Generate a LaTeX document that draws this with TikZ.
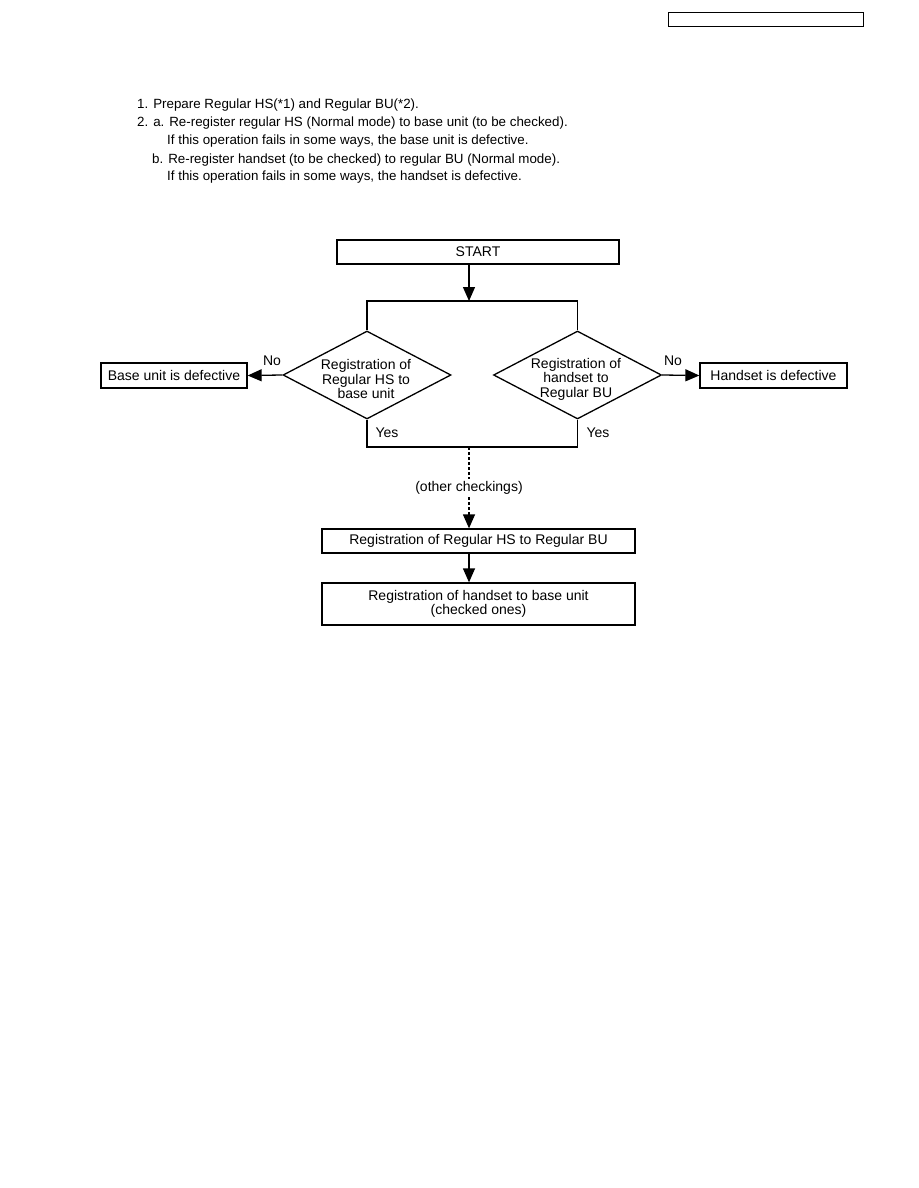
\documentclass[tikz,border=0pt]{standalone}
\usepackage{fontspec}
\setmainfont{Liberation Sans}
\usetikzlibrary{shapes.geometric,arrows.meta}

\tikzstyle{every node}=[font=\fontsize{14}{14.5}\selectfont]
\tikzstyle{block} = [rectangle,draw,line width=1.3pt,minimum height=24pt,inner sep=0,align=center]
\tikzstyle{test} = [diamond,draw,line width=1.3pt,minimum width=168pt,minimum height=88pt,aspect=1.9,inner sep=0]
\tikzstyle{flow} = [line width=1.3pt,-{Triangle[length=14pt,width=12pt]}]
\tikzstyle{wire} = [line width=1.3pt]
\tikzstyle{note} = [anchor=base west,inner sep=0,font=\fontsize{13.35}{17.6}\selectfont]

\begin{document}
\begin{tikzpicture}[x=1pt,y=-1pt]
	\useasboundingbox (0,0) rectangle (918,1188);
	\node[rectangle,draw,line width=1pt,minimum width=195pt,minimum height=14pt] (model) at (765.5,20) {};
	% instructions
	\node[note] (n1) at (137,109) {1. Prepare Regular HS(*1) and Regular BU(*2).};
	\node[note] (n2) at (137,127) {2. a. Re-register regular HS (Normal mode) to base unit (to be checked).};
	\node[note] (n3) at (167,145) {If this operation fails in some ways, the base unit is defective.};
	\node[note] (n4) at (152,163) {b. Re-register handset (to be checked) to regular BU (Normal mode).};
	\node[note] (n5) at (167,180) {If this operation fails in some ways, the handset is defective.};
	% flow chart
	\node[block,minimum width=282pt] (start) at (478,252) {START};
	\coordinate (split) at (469,301);
	\coordinate (merge) at (469,447);
	\node[test] (regHS) at (367,375) {};
	\node[align=center] (regHStext) at (366,379) {Registration of\\Regular HS to\\base unit};
	\node[test] (regBU) at (577.5,375) {};
	\node[align=center] (regBUtext) at (576,379) {Registration of\\handset to\\Regular BU};
	\node[block,minimum width=146pt,minimum height=25pt] (badBU) at (174,375.5) {Base unit is defective};
	\node[block,minimum width=147pt,minimum height=25pt] (badHS) at (773.5,375.5) {Handset is defective};
	\node[block,minimum width=313pt] (check1) at (478.5,541) {Registration of Regular HS to Regular BU};
	\node[block,minimum width=313pt,minimum height=42pt] (check2) at (478.5,604) {Registration of handset to base unit\\(checked ones)};
	\node (no1) at (272,361) {No};
	\node (no2) at (673,361) {No};
	\node (yes1) at (387,433) {Yes};
	\node (yes2) at (598,433) {Yes};
	\draw[flow] (start.south -| split) -- (split);
	\draw[wire] (regHS.north) |- (regBU.north |- split) -- (regBU.north);
	\draw[wire] (regHS.south) |- (regBU.south |- merge) -- (regBU.south);
	\draw[flow] (regHS.west) -- (badBU.east);
	\draw[flow] (regBU.east) -- (badHS.west);
	\draw[flow,dash pattern=on 3pt off 2pt] (merge) -- node[fill=white,inner sep=2pt] (other) {(other checkings)} (check1.north -| merge);
	\draw[flow] (check1.south -| merge) -- (check2.north -| merge);
\end{tikzpicture}
\end{document}
